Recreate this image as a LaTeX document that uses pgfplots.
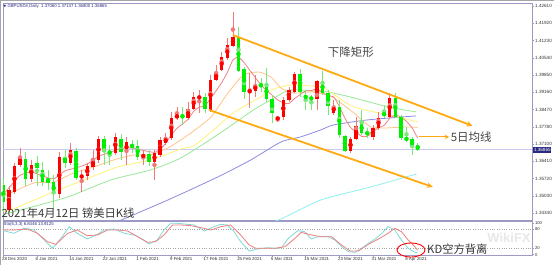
\documentclass[border=0pt]{standalone}
\usepackage{fontspec}
\setmainfont{Liberation Sans}
\newfontfamily\cjk{Noto Sans CJK SC}
\newfontfamily\dejavu{DejaVu Sans}
\usepackage{pgfplots}
\usepackage{pgfplotstable}
\pgfplotsset{compat=1.18}
\usetikzlibrary{arrows.meta}
\definecolor{upred}{HTML}{FF0000}
\definecolor{dngreen}{HTML}{00EE00}
\definecolor{upwick}{HTML}{F27878}
\definecolor{dnwick}{HTML}{78E878}
\definecolor{maA}{HTML}{F08585}
\definecolor{maB}{HTML}{FFC48A}
\definecolor{maC}{HTML}{FFF27A}
\definecolor{maD}{HTML}{98E898}
\definecolor{maE}{HTML}{8C8CE0}
\definecolor{maF}{HTML}{8EF0F0}
\definecolor{trend}{HTML}{FFAA10}
\definecolor{framec}{HTML}{9A9AC4}
\definecolor{navyt}{HTML}{2A2A80}
\definecolor{stoK}{HTML}{7FDAD6}
\definecolor{stoD}{HTML}{F08080}

\pgfplotstableread{
i O H L C
1 1.3446 1.3542 1.3438 1.3526
2 1.3518 1.3634 1.3510 1.3622
3 1.3626 1.3694 1.3618 1.3658
5 1.3570 1.3646 1.3558 1.3626
10 1.3510 1.3678 1.3494 1.3658
12 1.3634 1.3714 1.3626 1.3686
14 1.3574 1.3606 1.3518 1.3586
15 1.3582 1.3634 1.3566 1.3622
16 1.3618 1.3686 1.3606 1.3646
17 1.3646 1.3742 1.3634 1.3730
20 1.3674 1.3754 1.3666 1.3738
22 1.3678 1.3738 1.3626 1.3718
25 1.3658 1.3686 1.3626 1.3666
27 1.3638 1.3686 1.3566 1.3674
28 1.3666 1.3738 1.3658 1.3726
29 1.3714 1.3754 1.3706 1.3734
30 1.3734 1.3838 1.3726 1.3814
31 1.3814 1.3858 1.3806 1.3826
33 1.3814 1.3878 1.3806 1.3850
34 1.3850 1.3918 1.3846 1.3898
35 1.3894 1.3926 1.3834 1.3898
37 1.3846 1.3985 1.3838 1.3965
38 1.3965 1.4025 1.3961 1.3997
39 1.4005 1.4077 1.4001 1.4057
40 1.4053 1.4133 1.4045 1.4105
41 1.4101 1.4237 1.4097 1.4137
44 1.3918 1.3994 1.3854 1.3922
45 1.3922 1.3985 1.3898 1.3946
49 1.3806 1.3818 1.3798 1.3818
50 1.3818 1.3898 1.3806 1.3886
51 1.3886 1.3938 1.3878 1.3926
52 1.3918 1.3997 1.3914 1.3989
56 1.3890 1.3965 1.3846 1.3961
59 1.3834 1.3886 1.3826 1.3862
62 1.3682 1.3738 1.3674 1.3730
63 1.3730 1.3818 1.3726 1.3782
66 1.3738 1.3786 1.3726 1.3774
67 1.3774 1.3838 1.3766 1.3814
69 1.3818 1.3914 1.3814 1.3894
}\upc

\pgfplotstableread{
i O H L C
0 1.3546 1.3574 1.3438 1.3478
4 1.3650 1.3678 1.3542 1.3570
6 1.3634 1.3662 1.3542 1.3614
7 1.3606 1.3638 1.3542 1.3558
8 1.3574 1.3606 1.3526 1.3554
9 1.3558 1.3586 1.3446 1.3510
11 1.3658 1.3686 1.3614 1.3634
13 1.3682 1.3694 1.3566 1.3574
18 1.3730 1.3742 1.3626 1.3678
19 1.3678 1.3706 1.3626 1.3674
21 1.3730 1.3750 1.3646 1.3678
23 1.3706 1.3726 1.3674 1.3698
24 1.3702 1.3726 1.3646 1.3658
26 1.3670 1.3686 1.3622 1.3638
32 1.3826 1.3858 1.3786 1.3814
36 1.3898 1.3914 1.3834 1.3850
42 1.4137 1.4177 1.3997 1.4001
43 1.4009 1.4017 1.3890 1.3918
46 1.3946 1.3974 1.3918 1.3942
47 1.3950 1.4013 1.3878 1.3890
48 1.3890 1.3906 1.3794 1.3834
53 1.3989 1.4009 1.3898 1.3918
54 1.3906 1.3926 1.3846 1.3890
55 1.3894 1.3906 1.3846 1.3890
57 1.3961 1.4001 1.3906 1.3914
58 1.3914 1.3926 1.3826 1.3862
60 1.3858 1.3886 1.3734 1.3746
61 1.3742 1.3746 1.3678 1.3682
64 1.3794 1.3846 1.3746 1.3754
65 1.3754 1.3774 1.3734 1.3750
68 1.3832 1.3866 1.3814 1.3826
70 1.3894 1.3914 1.3814 1.3818
71 1.3818 1.3826 1.3726 1.3734
72 1.3734 1.3778 1.3718 1.3726
73 1.3730 1.3738 1.3666 1.3698
74 1.37060 1.37137 1.36800 1.36865
}\dnc

\begin{document}
\begin{tikzpicture}
\useasboundingbox (0,0) rectangle (554pt,-265pt);
\fill[white] (0,0) rectangle (554pt,-265pt);
\draw[black!35, line width=0.8pt] (0.4pt,-265pt) -- (0.4pt,-0.4pt) -- (554pt,-0.4pt);

\begin{axis}[
  at={(3pt,-3pt)}, anchor=north west, scale only axis,
  width=529pt, height=217pt,
  xmin=-0.05, xmax=94.41, ymin=1.3406, ymax=1.4273,
  axis line style={framec, line width=0.7pt},
  xtick=\empty,
  ytick={1.3434,1.3503,1.3572,1.3641,1.3710,1.3778,1.3847,1.3916,1.3985,1.4054,1.4123,1.4192,1.4261},
  ytick pos=right, yticklabel pos=right,
  tick align=outside, major tick length=2pt,
  tick style={framec, line width=0.4pt},
  scaled y ticks=false,
  yticklabel style={font=\fontsize{4.6}{5}\selectfont, text=black!80, inner sep=1pt,
    /pgf/number format/fixed, /pgf/number format/fixed zerofill,
    /pgf/number format/precision=5, /pgf/number format/assume math mode=true},
]
% current price line
\addplot[black!25!blue!20, line width=0.6pt] coordinates {(-1,1.36865) (96,1.36865)};
% moving averages
\addplot[maF, line width=0.8pt, smooth, tension=0.4] coordinates {
(46.9,1.3390) (49.6,1.3410) (56.7,1.3486) (65.6,1.3538) (73.8,1.3590)};
\addplot[maE, line width=0.8pt, smooth, tension=0.4] coordinates {
(19.2,1.3386) (21.5,1.3410) (29.4,1.3486) (38.3,1.3578) (44.2,1.3646) (49.6,1.3718) (53.1,1.3738) (56.7,1.3766) (59.0,1.3786) (65.1,1.3806) (73.7,1.3822)};
\addplot[maD, line width=0.8pt, smooth, tension=0.4] coordinates {
(0,1.3428) (3.1,1.3446) (11.5,1.3498) (19.2,1.3566) (26.3,1.3606) (31.7,1.3654) (38.5,1.3750) (44.7,1.3846) (47.8,1.3886) (51.3,1.3926) (56.7,1.3918) (58,1.3918) (62.6,1.3894) (68.7,1.3858) (73.7,1.3838)};
\addplot[maC, line width=0.8pt, smooth, tension=0.4] coordinates {
(0,1.3440) (1.3,1.3446) (8.5,1.3514) (14.4,1.3566) (20.4,1.3618) (26.3,1.3646) (31.7,1.3690) (34,1.3702) (37.5,1.3765) (41.2,1.3836) (46.0,1.3898) (47.8,1.3925) (51.3,1.3945) (56.7,1.3937) (59,1.3908) (62.6,1.3858) (68.7,1.3826) (74,1.3798)};
\addplot[maB, line width=0.8pt, smooth, tension=0.4] coordinates {
(0,1.3505) (1.3,1.3514) (5.5,1.3554) (9.0,1.3558) (12.6,1.3594) (16.2,1.3618) (19.7,1.3646) (23.3,1.3666) (26.3,1.3666) (29.4,1.3694) (31.7,1.3726) (34,1.3762) (37.1,1.3818) (40.1,1.3913) (42.9,1.3985) (45.6,1.3997) (47.8,1.3977) (49.6,1.3933) (51.9,1.3913) (54.9,1.3918) (57,1.3910) (59,1.3894) (62.6,1.3834) (65.6,1.3778) (68.7,1.3774) (71.5,1.3778) (74,1.3776)};
\addplot[maA, line width=0.8pt, smooth, tension=0.3] coordinates {
(-0.4,1.3498) (2,1.3560) (3,1.3585) (5,1.3598) (7,1.3582) (9,1.3570) (11,1.3602) (13,1.3614) (15,1.3630) (17,1.3660) (19,1.3676) (21,1.3692) (23,1.3694) (25,1.3684) (27,1.3676) (28,1.3690) (29,1.3712) (30,1.3746) (31,1.3772) (32,1.3790) (33,1.3808) (34,1.3840) (35,1.3857) (36,1.3862) (37,1.3892) (38,1.3922) (39,1.3955) (40,1.3995) (41,1.4045) (42,1.4057) (43,1.4035) (44,1.4005) (45,1.3975) (46,1.3946) (47,1.3924) (48,1.3905) (49,1.3886) (50,1.3874) (51,1.3871) (52,1.3891) (53,1.3907) (54,1.3922) (55,1.3923) (56,1.3930) (57,1.3915) (58,1.3903) (59,1.3898) (60,1.3860) (61,1.3813) (62,1.3776) (63,1.3758) (64,1.3740) (65,1.3740) (66,1.3758) (67,1.3775) (68,1.3784) (69,1.3812) (70,1.3825) (71,1.3817) (72,1.3800) (73,1.3774) (74,1.3733)};
% candle wicks
\addplot[color=upwick, only marks, mark=none, error bars/.cd, y dir=both, y explicit, error mark=none,
  error bar style={color=upwick, line width=0.7pt}]
  table[x=i, y expr={(\thisrow{H}+\thisrow{L})/2}, y error expr={(\thisrow{H}-\thisrow{L})/2}] {\upc};
\addplot[color=dnwick, only marks, mark=none, error bars/.cd, y dir=both, y explicit, error mark=none,
  error bar style={color=dnwick, line width=0.7pt}]
  table[x=i, y expr={(\thisrow{H}+\thisrow{L})/2}, y error expr={(\thisrow{H}-\thisrow{L})/2}] {\dnc};
% candle bodies
\addplot[color=upred, only marks, mark=none, error bars/.cd, y dir=both, y explicit, error mark=none,
  error bar style={color=upred, line width=3.5pt}]
  table[x=i, y expr={(\thisrow{O}+\thisrow{C})/2}, y error expr={abs(\thisrow{C}-\thisrow{O})/2}] {\upc};
\addplot[color=dngreen, only marks, mark=none, error bars/.cd, y dir=both, y explicit, error mark=none,
  error bar style={color=dngreen, line width=3.5pt}]
  table[x=i, y expr={(\thisrow{O}+\thisrow{C})/2}, y error expr={abs(\thisrow{C}-\thisrow{O})/2}] {\dnc};
% trend channel
\addplot[trend, line width=1.8pt, -{Stealth[length=6pt,width=5.5pt]}] coordinates {(41.0,1.4145) (83.8,1.3782)};
\addplot[trend, line width=1.8pt, -{Stealth[length=6pt,width=5.5pt]}] coordinates {(36.7,1.3846) (76.7,1.3538)};
\addplot[trend, line width=1.1pt, -{Stealth[length=4.5pt,width=4.5pt]}] coordinates {(74.3,1.3738) (79.6,1.3738)};
\node[font=\cjk\fontsize{11.5}{12}\selectfont, text=black!72] at (axis cs:62.05,1.4077) {下降矩形};
\node[anchor=west, inner sep=1pt, font=\cjk\fontsize{11.5}{12}\selectfont, text=black!72] at (axis cs:79.7,1.3738) {5日均线};
\end{axis}

\begin{axis}[
  at={(3pt,-221pt)}, anchor=north west, scale only axis,
  width=529pt, height=34pt,
  xmin=-0.05, xmax=94.41, ymin=-1.15, ymax=106.2,
  axis line style={framec, line width=0.7pt},
  xtick={0,6,...,72},
  xticklabels={28 Dec 2020,6 Jan 2021,14 Jan 2021,22 Jan 2021,1 Feb 2021,9 Feb 2021,17 Feb 2021,25 Feb 2021,5 Mar 2021,15 Mar 2021,23 Mar 2021,31 Mar 2021,8 Apr 2021},
  xtick pos=bottom,
  xticklabel style={font=\fontsize{4.4}{5}\selectfont, text=black!80, anchor=north west, xshift=-2pt, inner sep=0.6pt},
  ytick={0,20,80,100},
  yticklabels={0,20,80,100},
  ytick pos=right, yticklabel pos=right,
  tick align=outside, major tick length=2pt,
  tick style={framec, line width=0.4pt},
  yticklabel style={font=\fontsize{4.2}{4.5}\selectfont, text=black!80, inner sep=0.8pt},
]
\addplot[black!35, dotted, line width=0.4pt] coordinates {(-1,80) (96,80)};
\addplot[black!35, dotted, line width=0.4pt] coordinates {(-1,20) (96,20)};
\addplot[stoK, line width=0.8pt] coordinates {
(-0.45,77.8) (1.9,67.3) (3.7,83.1) (5.5,77.8) (7.3,46.2) (8.8,19.9) (10.3,51.5) (11.8,88.3) (13.2,67.3) (15.0,49.4) (16.8,64.1) (18.0,77.8) (19.8,80.9) (21.6,67.3) (23.4,62.0) (25.1,46.2) (26.0,33.6) (27.5,46.2) (28.7,77.8) (29.9,98.8) (31.1,98.8) (32.9,95.7) (34.1,93.6) (35.9,74.6) (37.6,88.3) (38.8,95.7) (40.0,93.6) (41.2,72.5) (42.4,40.9) (43.9,11.5) (45.4,17.8) (47.2,22.0) (48.5,19.9) (49.7,22.0) (50.9,51.5) (52.6,75.7) (53.8,72.5) (55.0,49.4) (56.2,56.7) (58.0,56.7) (59.2,46.2) (60.4,25.2) (61.6,9.3) (62.8,7.2) (64.0,19.9) (65.2,35.7) (66.4,49.4) (67.6,67.3) (68.7,88.3) (69.9,77.8) (71.1,46.2) (72.3,19.9) (73.5,7.2) (74.0,6.8)};
\addplot[stoD, line width=0.8pt] coordinates {
(-0.45,77.8) (1.9,77.8) (4.3,80.9) (6.1,67.3) (7.9,40.9) (9.4,32.6) (11.5,67.3) (13.2,77.8) (15.0,59.9) (16.8,62.0) (18.6,77.8) (20.4,77.8) (22.2,74.6) (24.0,56.7) (25.7,38.9) (27.2,40.9) (28.7,62.0) (30.2,93.6) (31.7,93.6) (33.5,91.5) (35.3,85.1) (37.1,77.8) (38.8,88.3) (40.6,93.6) (42.4,62.0) (43.9,30.5) (45.1,19.9) (47.2,19.9) (48.5,19.9) (50.3,25.2) (52.1,51.5) (53.2,70.4) (55.0,62.0) (56.8,56.7) (58.6,56.7) (60.4,30.5) (61.9,11.5) (63.4,11.5) (65.2,32.6) (67.0,49.4) (68.7,67.3) (69.9,83.1) (71.1,72.5) (72.3,46.2) (73.5,25.2) (74.0,13.9)};
\end{axis}

% overlay texts
\node[anchor=west, inner sep=0, font=\fontsize{4.3}{5}\selectfont, text=navyt] at (3.5pt,-6pt) {{\dejavu\fontsize{3.4}{4}\selectfont ▼}\ GBPUSD\#,Daily\ \ 1.37060 1.37137 1.36800 1.36865};
\node[anchor=west, inner sep=0, font=\fontsize{4.3}{5}\selectfont, text=navyt] at (3.5pt,-224.5pt) {Sto(5,3,3) 6.8446 13.9125};
\node[anchor=west, fill=navyt, text=white, inner xsep=0.8pt, inner ysep=0.9pt, font=\fontsize{4.6}{5}\selectfont] at (533pt,-150pt) {1.36865};
\node[anchor=west, inner sep=0, font=\cjk\fontsize{11.3}{12}\selectfont, text=black!78] at (1.5pt,-213pt) {2021年4月12日 镑美日K线};
\node[text=black!9, inner sep=0, font=\fontsize{13}{13}\selectfont\bfseries] at (509pt,-238pt) {WikiFX};
\draw[red, line width=0.9pt] (411pt,-250pt) ellipse [x radius=14pt, y radius=7pt];
\node[anchor=west, inner sep=0, font=\cjk\fontsize{11.3}{12}\selectfont, text=black!78] at (427pt,-249.5pt) {KD空方背离};
\end{tikzpicture}
\end{document}
